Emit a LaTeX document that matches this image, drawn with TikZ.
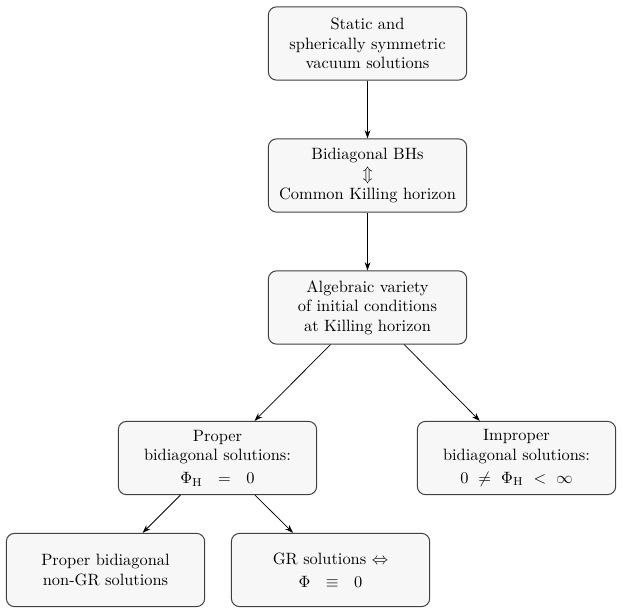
\documentclass[tikz,border=0pt]{standalone}
\usepackage{amsmath,amssymb}
\usepackage{tikz}
\usetikzlibrary{arrows.meta,positioning}

\begin{document}
\begin{tikzpicture}[
    box/.style={draw=black!75,fill=black!3,line width=0.6pt,rounded corners=5pt,
      align=center,minimum width=4.25cm,minimum height=1.57cm,inner sep=2pt,
      execute at begin node={\rule{0pt}{10.5pt}}},
    link/.style={-{Stealth[length=5pt,width=3.5pt]},line width=0.45pt}]
  \useasboundingbox (0,0) rectangle (13.351,-13.158);
  \node[box] (static) at (7.876,-0.932) {Static and\\ spherically symmetric\\ vacuum solutions};
  \node[box] (bidiag) at (7.876,-3.761) {Bidiagonal BHs\\ $\Updownarrow$\\ Common Killing horizon};
  \node[box] (variety) at (7.876,-6.590) {Algebraic variety\\ of initial conditions\\ at Killing horizon};
  \node[box] (proper) at (4.661,-9.815) {Proper\\ bidiagonal solutions:\\[2pt] $\Phi_{\mathrm{H}}\ \ =\ \ 0$};
  \node[box] (improper) at (11.069,-9.815) {Improper\\ bidiagonal solutions:\\[2pt] $0\ \neq\ \Phi_{\mathrm{H}}\ <\ \infty$};
  \node[box] (nongr) at (2.261,-12.215) {Proper bidiagonal\\ non-GR solutions};
  \node[box] (gr) at (7.083,-12.215) {GR solutions $\Leftrightarrow$\\[2pt] $\Phi\ \ \equiv\ \ 0$};
  \draw[link] (static) -- (bidiag);
  \draw[link] (bidiag) -- (variety);
  \draw[link] (variety) -- (proper);
  \draw[link] (variety) -- (improper);
  \draw[link] (proper) -- (nongr);
  \draw[link] (proper) -- (gr);
\end{tikzpicture}
\end{document}
